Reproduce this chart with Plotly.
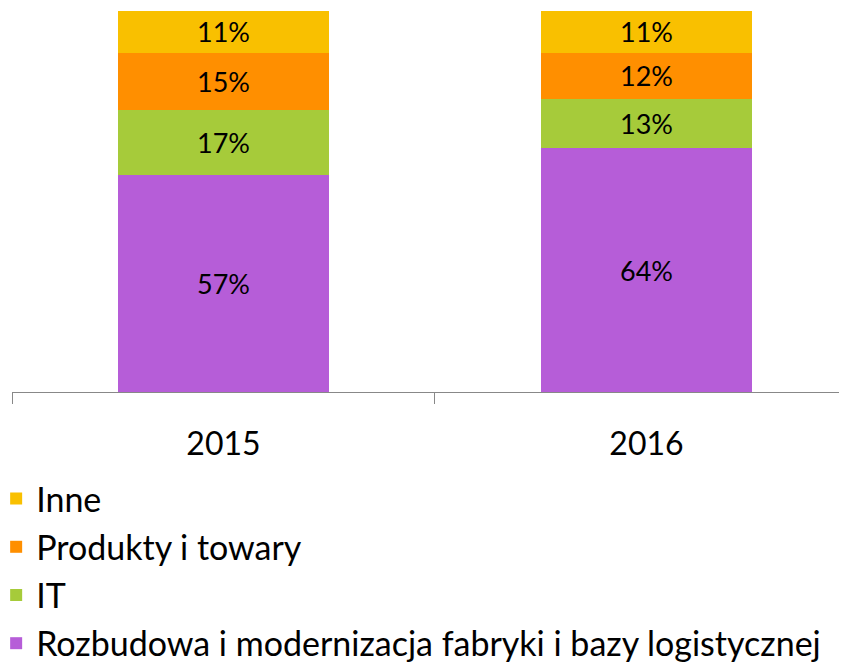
import plotly.graph_objects as go

years = ["2015", "2016"]
series_names = ["Rozbudowa i modernizacja fabryki i bazy logistycznej", "IT", "Produkty i towary", "Inne"]
rozbudowa = [57, 64]
it = [17, 13]
produkty = [15, 12]
inne = [11, 11]
colors = ["#B65DD8", "#A6CB3A", "#FF8F00", "#F9C000"]

FONT = "Lato"
fig = go.Figure()
for i, (name, vals, col) in enumerate(zip(series_names, [rozbudowa, it, produkty, inne], colors)):
    fig.add_trace(go.Bar(
        x=years, y=vals, name=name, marker=dict(color=col, line=dict(width=0)),
        text=[f"{v}%" for v in vals], textposition="inside", insidetextanchor="middle",
        textangle=0, constraintext="none",
        textfont=dict(family=FONT, size=27, color="black"),
        legendgroup=name, legendrank=10 - i,
    ))

fig.update_layout(
    barmode="stack", bargap=0.5,
    width=847, height=666,
    margin=dict(l=4, r=0, t=3, b=282, autoexpand=False),
    paper_bgcolor="white", plot_bgcolor="white",
    font=dict(family=FONT, color="black"),
    showlegend=True,
    legend=dict(
        x=-0.0188, xanchor="left", y=-0.2047, yanchor="top",
        traceorder="grouped", tracegroupgap=1,
        font=dict(family=FONT, size=34, color="black"),
        itemwidth=30,
    ),
)
fig.update_xaxes(
    type="category", range=[-0.5, 1.493], tickson="boundaries",
    ticks="outside", ticklen=11, tickcolor="#888888", tickwidth=1,
    showline=True, linecolor="#888888", linewidth=1,
    showgrid=False, tickfont=dict(family=FONT, size=32, color="black"),
    ticklabelstandoff=24, automargin=False,
)
fig.update_yaxes(range=[0, 100], visible=False, showgrid=False, automargin=False)

fig.write_html("out.html")
